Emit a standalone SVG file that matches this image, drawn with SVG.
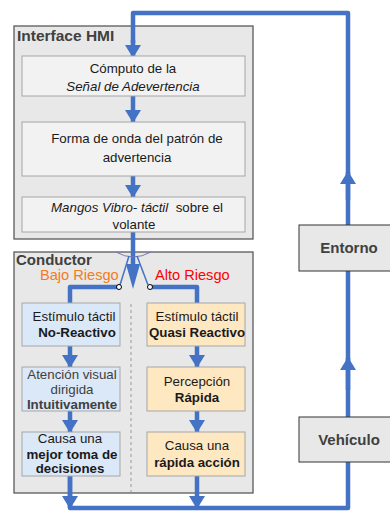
<svg xmlns="http://www.w3.org/2000/svg" width="390" height="511" viewBox="0 0 390 511">
<defs>
<style>
.frame{fill:#e8e8e8;stroke:#5a5a5a;stroke-width:1.3}
.inner{fill:#f2f2f2;stroke:#a6a6a6;stroke-width:1}
.blue{fill:#dbe8f8;stroke:#a6a6a6;stroke-width:1}
.orange{fill:#fde8c2;stroke:#a6a6a6;stroke-width:1}
.side{fill:#e8e8e8;stroke:#333;stroke-width:1}
text{font-family:"Liberation Sans",Arial,sans-serif;fill:#1a1a1a;font-size:13.3px}
.c{text-anchor:middle}
.b{font-weight:bold}
.i{font-style:italic}
.g{fill:#404040}
.t{font-size:15px}
.wire{fill:none;stroke:#4472c4;stroke-width:4.5;stroke-linejoin:round}
.thin{fill:none;stroke:#4472c4;stroke-width:1.5}
</style>
<marker id="ah" markerUnits="userSpaceOnUse" viewBox="0 0 13 16" markerWidth="13" markerHeight="16" refX="12" refY="8" orient="auto">
<path d="M0,0 L13,8 L0,16 z" fill="#4472c4"/>
</marker>
</defs>

<g id="hmi">
<rect class="frame" x="14" y="26" width="239" height="213"/>
<text x="17" y="41" class="b g" style="font-size:15.5px">Interface HMI</text>
</g>

<g id="conductor">
<rect class="frame" x="14" y="252" width="239" height="241"/>
<text x="16" y="265" class="b g t">Conductor</text>
<line x1="131" y1="304" x2="131" y2="492" stroke="#999" stroke-width="1" stroke-dasharray="3,3"/>
</g>

<g id="connectors">
<path class="wire" d="M70,476 V508 H348 V13 H133 V43" />
<path class="wire" d="M133,40 V57" marker-end="url(#ah)"/>
<path class="wire" d="M348,200 V172" marker-end="url(#ah)"/>
<path class="wire" d="M348,390 V358" marker-end="url(#ah)"/>
<path class="wire" d="M70,476 V508" marker-end="url(#ah)"/>
<path class="wire" d="M197,476 V508" marker-end="url(#ah)"/>
<path class="wire" d="M133,96 V122" marker-end="url(#ah)"/>
<path class="wire" d="M133,176 V197" marker-end="url(#ah)"/>
<path class="wire" d="M70,346 V367" marker-end="url(#ah)"/>
<path class="wire" d="M70,411 V432" marker-end="url(#ah)"/>
<path class="wire" d="M197,346 V367" marker-end="url(#ah)"/>
<path class="wire" d="M197,411 V432" marker-end="url(#ah)"/>
<path class="wire" d="M133,232 V266"/>
<polygon points="126,264 140,264 133,289" fill="#4472c4"/>
<path d="M116,252 Q133,262 151,252" fill="none" stroke="#7878b8" stroke-width="1"/>
<path class="thin" d="M129,256 L120,285"/>
<path class="thin" d="M137,256 L148,285"/>
<path class="wire" d="M118,287 H70 V303"/>
<path class="wire" d="M151,287 H197 V303"/>
<circle cx="119" cy="287" r="2.5" fill="#fff" stroke="#000" stroke-width="1"/>
<circle cx="150" cy="287" r="2.5" fill="#fff" stroke="#000" stroke-width="1"/>
<text x="40" y="280" style="fill:#f47b20;font-size:14.6px">Bajo Riesgo</text>
<text x="155" y="280" style="fill:#ff0000;font-size:14.6px">Alto Riesgo</text>
</g>

<g id="computo">
<rect class="inner" x="22" y="56" width="223" height="40"/>
<text x="133" y="73" class="c">Cómputo de la</text>
<text x="133" y="91" class="c i">Señal de Adevertencia</text>
</g>

<g id="forma">
<rect class="inner" x="22" y="122" width="223" height="54"/>
<text x="137" y="143" class="c">Forma de onda del patrón de</text>
<text x="137" y="162" class="c">advertencia</text>
</g>

<g id="mangos">
<rect class="inner" x="22" y="197" width="223" height="35"/>
<text x="137" y="212" class="c" style="white-space:pre"><tspan class="i">Mangos Vibro- táctil</tspan>  sobre el</text>
<text x="134" y="229" class="c">volante</text>
</g>

<g id="l1">
<rect class="blue" x="22" y="303" width="98" height="43"/>
<text x="74" y="321" class="c">Estímulo táctil</text>
<text x="77" y="337" class="c b">No-Reactivo</text>
</g>
<g id="l2">
<rect class="blue" x="22" y="367" width="98" height="44"/>
<text x="72" y="379" class="c g">Atención visual</text>
<text x="72" y="394" class="c g">dirigida</text>
<text x="72" y="409" class="c b g">Intuitivamente</text>
</g>
<g id="l3">
<rect class="blue" x="22" y="432" width="98" height="44"/>
<text x="70" y="443" class="c">Causa una</text>
<text x="72" y="459" class="c b">mejor toma de</text>
<text x="70" y="473" class="c b">decisiones</text>
</g>

<g id="r1">
<rect class="orange" x="147" y="303" width="98" height="43"/>
<text x="197" y="321" class="c">Estímulo táctil</text>
<text x="197" y="337" class="c b">Quasi Reactivo</text>
</g>
<g id="r2">
<rect class="orange" x="147" y="367" width="98" height="44"/>
<text x="197" y="386" class="c">Percepción</text>
<text x="197" y="402" class="c b">Rápida</text>
</g>
<g id="r3">
<rect class="orange" x="147" y="432" width="98" height="44"/>
<text x="197" y="450" class="c">Causa una</text>
<text x="197" y="467" class="c b">rápida acción</text>
</g>

<g id="entorno">
<rect class="side" x="299" y="225" width="92" height="46"/>
<text x="349" y="253" class="c b g t">Entorno</text>
</g>
<g id="vehiculo">
<rect class="side" x="299" y="417" width="92" height="45"/>
<text x="349" y="445" class="c b g t">Vehículo</text>
</g>
</svg>
